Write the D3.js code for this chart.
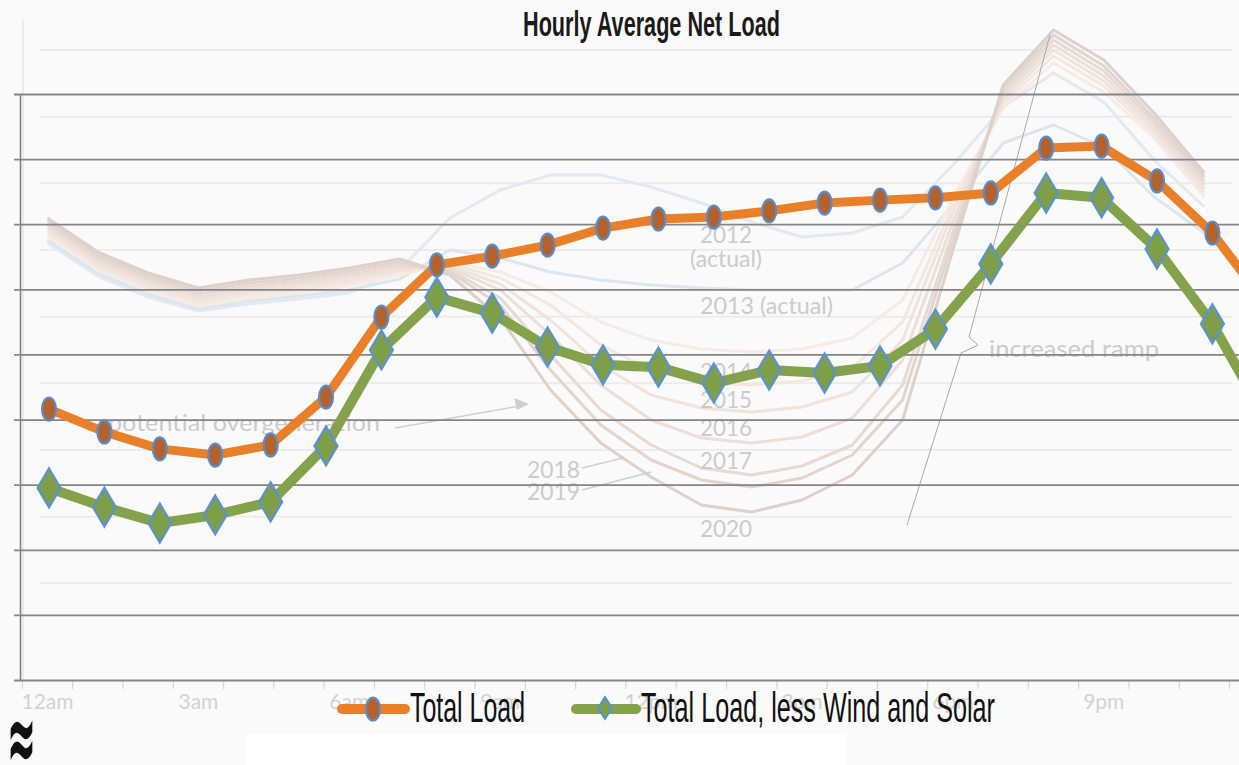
<!DOCTYPE html>
<html>
<head>
<meta charset="utf-8">
<script src="https://cdn.jsdelivr.net/npm/d3@7"></script>
<style>
  body { margin: 0; background: #fafafa; }
  svg { display: block; }
</style>
</head>
<body>
<svg width="1239" height="765"></svg>
<script>
// hours of the day shown (0 = 12am); the 11pm point falls outside the picture
const hours = [0, 1, 2, 3, 4, 5, 6, 7, 8, 9, 10, 11, 12, 13, 14, 15, 16, 17, 18, 19, 20, 21, 22];

// MW
const totalLoad = [26320, 25620, 25100, 24910, 25220, 26690, 29150, 30750, 31020, 31360, 31880, 32160,
                   32220, 32410, 32650, 32740, 32810, 32960, 34340, 34400, 33330, 31730, 29490];
const netLoad = [23900, 23310, 22820, 23070, 23470, 25190, 28140, 29760, 29270, 28230, 27680, 27610,
                 27120, 27520, 27430, 27650, 28780, 30780, 32960, 32810, 31240, 28940, 25930];

const yTicks = [18000, 20000, 22000, 24000, 26000, 28000, 30000, 32000, 34000, 36000];

// faded "duck curve" picture behind the chart, 24 hours each, MW
const duckHours = [0, 1, 2, 3, 4, 5, 6, 7, 8, 9, 10, 11, 12, 13, 14, 15, 16, 17, 18, 19, 20, 21, 22, 23];
const duck2012 = [22210, 21220, 20590, 20170, 20380, 20530, 20710, 21400, 22960, 23800, 24250, 24250, 23890, 23410, 22840, 22390, 22510, 22990, 24550, 26290, 27310, 26440, 24700, 23290];
const duck2013 = [22300, 21310, 20680, 20230, 20470, 20620, 20800, 21130, 22000, 21760, 21340, 21100, 20950, 20860, 20800, 20800, 20800, 21610, 23350, 25210, 25750, 25090, 23590, 22510];
const duck2014 = [22420, 21400, 20770, 20320, 20560, 20710, 20920, 21250, 21640, 21340, 20740, 19840, 19300, 19030, 18940, 19030, 19360, 20500, 23560, 26260, 27610, 26740, 25360, 23590];
const duck2015 = [22510, 21490, 20860, 20410, 20650, 20800, 21010, 21340, 21580, 21160, 20350, 19150, 18400, 18040, 17950, 18070, 18460, 19840, 23350, 26380, 27820, 26920, 25480, 23710];
const duck2016 = [22600, 21580, 20950, 20500, 20740, 20890, 21100, 21400, 21520, 20980, 19900, 18550, 17650, 17260, 17140, 17290, 17740, 19300, 23140, 26500, 28000, 27070, 25600, 23830];
const duck2017 = [22690, 21670, 21040, 20590, 20830, 20980, 21190, 21460, 21460, 20800, 19450, 17950, 16900, 16360, 16210, 16390, 16960, 18700, 22840, 26620, 28150, 27220, 25720, 23950];
const duck2018 = [22780, 21760, 21130, 20680, 20920, 21070, 21280, 21550, 21400, 20560, 18850, 17200, 16150, 15460, 15250, 15520, 16150, 17950, 22540, 26740, 28300, 27370, 25840, 24070];
const duck2019 = [22870, 21850, 21220, 20770, 21010, 21160, 21370, 21640, 21340, 20350, 18400, 16750, 15700, 15100, 14890, 15160, 15850, 17500, 22300, 26860, 28450, 27520, 25960, 24190];
const duck2020 = [22960, 21940, 21310, 20860, 21100, 21250, 21460, 21730, 21250, 19960, 17800, 16210, 15190, 14350, 14140, 14500, 15250, 16900, 22000, 26950, 28600, 27700, 26110, 24310];
const duckTicks = [12000, 14000, 16000, 18000, 20000, 22000, 24000, 26000, 28000];
const duckLabels = ["12am", "3am", "6am", "9am", "12pm", "3pm", "6pm", "9pm"];
const duckLabelHours = [0, 3, 6, 9, 12, 15, 18, 21];

let svg = d3.select("svg");

let scale = {
  x: d3.scaleLinear().domain([0, 23]).range([49, 49 + 23 * 55.4]),
  y: d3.scaleLinear().domain([18000, 36000]).range([680, 94]),
  bx: d3.scaleLinear().domain([0, 23]).range([47.5, 47.5 + 23 * 50.3]),
  by: d3.scaleLinear().domain([10000, 28000]).range([650, 50])
};

svg.append("rect").attr("width", 1239).attr("height", 765).attr("fill", "#fafafa");
svg.append("rect").attr("x", 245).attr("y", 734).attr("width", 601).attr("height", 31).attr("fill", "#ffffff");

// ---- background picture ----
let bg = svg.append("g");

bg.append("line")
    .attr("x1", 23).attr("x2", 23).attr("y1", 20).attr("y2", 680)
    .attr("stroke", "#e6e6e6").attr("stroke-width", 1.5);

bg.selectAll(".bgrid").data(duckTicks)
  .enter().append("line")
    .attr("class", "bgrid")
    .attr("x1", 40).attr("x2", 1232)
    .attr("y1", d => scale.by(d)).attr("y2", d => scale.by(d))
    .attr("stroke", "#ececec").attr("stroke-width", 2);

let duckSeries = [
  {values: duck2012, color: "#e2eaf0"},
  {values: duck2013, color: "#dde6ed"},
  {values: duck2014, color: "#f6ece6"},
  {values: duck2015, color: "#f3e8e1"},
  {values: duck2016, color: "#efe3dc"},
  {values: duck2017, color: "#ebdfd8"},
  {values: duck2018, color: "#e6dad3"},
  {values: duck2019, color: "#e1d5ce"},
  {values: duck2020, color: "#ddd1c9"}
];

let duckLine = d3.line()
    .x((d, i) => scale.bx(duckHours[i]))
    .y(d => scale.by(d));

bg.selectAll(".duck").data(duckSeries)
  .enter().append("path")
    .attr("class", "duck")
    .attr("d", s => duckLine(s.values))
    .attr("fill", "none")
    .attr("stroke", s => s.color)
    .attr("stroke-width", 3)
    .attr("stroke-linejoin", "round");

let notes = [
  {t: "2012", x: 700, y: 243, w: 52},
  {t: "(actual)", x: 690, y: 267, w: 72},
  {t: "2013 (actual)", x: 700, y: 314, w: 133},
  {t: "2014", x: 700, y: 380, w: 52},
  {t: "2015", x: 700, y: 408, w: 52},
  {t: "2016", x: 700, y: 436, w: 52},
  {t: "2017", x: 700, y: 469, w: 52},
  {t: "2018", x: 527, y: 478, w: 53},
  {t: "2019", x: 527, y: 500, w: 53},
  {t: "2020", x: 700, y: 537, w: 52},
  {t: "potential overgeneration", x: 108, y: 431, w: 272},
  {t: "increased ramp", x: 989, y: 357, w: 170}
];

bg.selectAll(".note").data(notes)
  .enter().append("text")
    .attr("class", "note")
    .attr("x", d => d.x).attr("y", d => d.y)
    .attr("textLength", d => d.w)
    .attr("lengthAdjust", "spacingAndGlyphs")
    .style("font-family", "Lato, 'Open Sans', sans-serif")
    .style("font-size", "24px")
    .style("fill", "#cbcbcb")
    .text(d => d.t);

let leaders = [
  [[582, 468], [623, 458]],
  [[582, 490], [651, 472]],
  [[395, 428], [520, 406]],
  [[1050, 35], [969, 337], [978, 345], [961, 353], [907, 525]]
];
bg.selectAll(".leader").data(leaders)
  .enter().append("path")
    .attr("class", "leader")
    .attr("d", d3.line())
    .attr("fill", "none")
    .attr("stroke", (d, i) => i == 3 ? "#a8a8a8" : "#cfcfcf")
    .attr("stroke-width", (d, i) => i == 3 ? 1 : 1.5);
bg.append("path")
    .attr("d", "M529,404 L514,398 L517,410 Z")
    .attr("fill", "#cfcfcf");

bg.selectAll(".btick").data(duckHours.concat([24]))
  .enter().append("line")
    .attr("class", "btick")
    .attr("x1", d => scale.bx(d - 0.5)).attr("x2", d => scale.bx(d - 0.5))
    .attr("y1", 681).attr("y2", 689)
    .attr("stroke", "#d6d6d6").attr("stroke-width", 1.2);

bg.selectAll(".blabel").data(duckLabels)
  .enter().append("text")
    .attr("class", "blabel")
    .attr("x", (d, i) => scale.bx(duckLabelHours[i]))
    .attr("y", 709)
    .style("text-anchor", "middle")
    .style("font-family", "Lato, 'Open Sans', sans-serif")
    .style("font-size", "21px")
    .style("fill", "#d2d2d2")
    .text(d => d);

// ---- chart ----
let grid = svg.append("g")
    .attr("transform", "translate(20,0)")
    .call(d3.axisLeft(scale.y).tickValues(yTicks).tickSize(-1225).tickSizeOuter(0).tickFormat(""));
grid.select(".domain").attr("stroke", "#7a7a7a").attr("stroke-width", 1.5);
grid.selectAll(".tick line")
    .attr("x1", -6)
    .attr("stroke", "#858585")
    .attr("stroke-width", 1.8);

let line = d3.line()
    .x((d, i) => scale.x(hours[i]))
    .y(d => scale.y(d));

svg.append("path")
    .attr("d", line(totalLoad))
    .attr("fill", "none")
    .attr("stroke", "#e98029")
    .attr("stroke-width", 9)
    .attr("stroke-linejoin", "round");

svg.selectAll(".dot").data(totalLoad)
  .enter().append("ellipse")
    .attr("class", "dot")
    .attr("cx", (d, i) => scale.x(hours[i]))
    .attr("cy", d => scale.y(d))
    .attr("rx", 7).attr("ry", 11.5)
    .attr("fill", "#b2622c")
    .attr("stroke", "#5a8ccc")
    .attr("stroke-width", 2.2);

svg.append("path")
    .attr("d", line(netLoad))
    .attr("fill", "none")
    .attr("stroke", "#83a24b")
    .attr("stroke-width", 10)
    .attr("stroke-linejoin", "round");

svg.selectAll(".diamond").data(netLoad)
  .enter().append("path")
    .attr("class", "diamond")
    .attr("transform", (d, i) => "translate(" + scale.x(hours[i]) + "," + scale.y(d) + ")")
    .attr("d", "M0,-19.5L11.5,0L0,19.5L-11.5,0Z")
    .attr("fill", "#7e9e47")
    .attr("stroke", "#5b92d4")
    .attr("stroke-width", 2.2);

// title
svg.append("text")
    .attr("x", 523).attr("y", 36)
    .attr("textLength", 257)
    .attr("lengthAdjust", "spacingAndGlyphs")
    .style("font-family", "'Liberation Sans Narrow', 'Liberation Sans', Arial, sans-serif")
    .style("font-weight", "bold")
    .style("font-size", "35px")
    .style("fill", "#1a1a1a")
    .text("Hourly Average Net Load");

// legend
let legend = svg.append("g");
legend.append("line")
    .attr("x1", 342).attr("x2", 405).attr("y1", 709).attr("y2", 709)
    .attr("stroke", "#e98029").attr("stroke-width", 10).attr("stroke-linecap", "round");
legend.append("ellipse")
    .attr("cx", 373).attr("cy", 709).attr("rx", 7).attr("ry", 11.5)
    .attr("fill", "#b2622c").attr("stroke", "#5a8ccc").attr("stroke-width", 2.2);
legend.append("line")
    .attr("x1", 576).attr("x2", 636).attr("y1", 709).attr("y2", 709)
    .attr("stroke", "#83a24b").attr("stroke-width", 10).attr("stroke-linecap", "round");
legend.append("path")
    .attr("transform", "translate(605,708)")
    .attr("d", "M0,-11L7,0L0,11L-7,0Z")
    .attr("fill", "#7e9e47").attr("stroke", "#5b92d4").attr("stroke-width", 2);

legend.selectAll(".ltext").data([
    {t: "Total Load", x: 410, w: 115},
    {t: "Total Load, less Wind and Solar", x: 641, w: 354}
  ])
  .enter().append("text")
    .attr("class", "ltext")
    .attr("x", d => d.x).attr("y", 722)
    .attr("textLength", d => d.w)
    .attr("lengthAdjust", "spacingAndGlyphs")
    .style("font-family", "'Liberation Sans Narrow', 'Liberation Sans', Arial, sans-serif")
    .style("font-size", "42px")
    .style("fill", "#111")
    .text(d => d.t);

// stray glyph in the corner
svg.append("text")
    .attr("transform", "translate(7,771) scale(1,2.7)")
    .attr("textLength", 29)
    .attr("lengthAdjust", "spacingAndGlyphs")
    .style("font-family", "'DejaVu Sans', sans-serif")
    .style("font-weight", "bold")
    .style("font-size", "36px")
    .style("fill", "#111")
    .text("≈");
</script>
</body>
</html>
